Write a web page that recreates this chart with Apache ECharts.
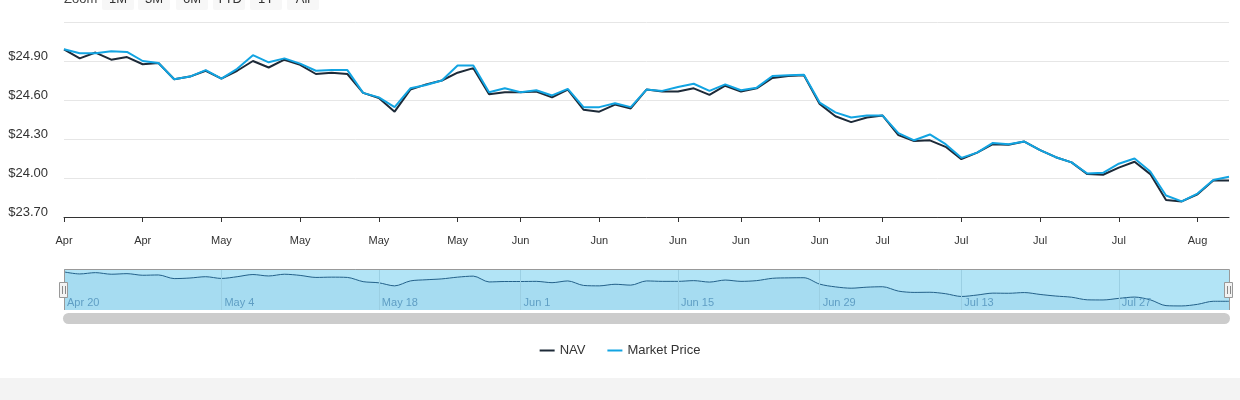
<!DOCTYPE html>
<html>
<head>
<meta charset="utf-8">
<script src="https://cdn.jsdelivr.net/npm/echarts@6/dist/echarts.min.js"></script>
<style>
html,body{margin:0;padding:0;background:#fff;}
#chart{width:1240px;height:400px;}
</style>
</head>
<body>
<div id="chart"></div>
<script>
const dates = [
 '2020-04-20','2020-04-21','2020-04-22','2020-04-23','2020-04-24',
 '2020-04-27','2020-04-28','2020-04-29','2020-04-30','2020-05-01',
 '2020-05-04','2020-05-05','2020-05-06','2020-05-07','2020-05-08',
 '2020-05-11','2020-05-12','2020-05-13','2020-05-14','2020-05-15',
 '2020-05-18','2020-05-19','2020-05-20','2020-05-21','2020-05-22',
 '2020-05-26','2020-05-27','2020-05-28','2020-05-29',
 '2020-06-01','2020-06-02','2020-06-03','2020-06-04','2020-06-05',
 '2020-06-08','2020-06-09','2020-06-10','2020-06-11','2020-06-12',
 '2020-06-15','2020-06-16','2020-06-17','2020-06-18',
 '2020-06-22','2020-06-23','2020-06-24','2020-06-25','2020-06-26',
 '2020-06-29','2020-06-30','2020-07-01','2020-07-02',
 '2020-07-06','2020-07-07','2020-07-08','2020-07-09','2020-07-10',
 '2020-07-13','2020-07-14','2020-07-15','2020-07-16','2020-07-17',
 '2020-07-20','2020-07-21','2020-07-22','2020-07-23','2020-07-24',
 '2020-07-27','2020-07-28','2020-07-29','2020-07-30','2020-07-31',
 '2020-08-03','2020-08-04','2020-08-05'
];
const nav = [
 24.99,24.92,24.965,24.91,24.93,
 24.875,24.885,24.76,24.78,24.825,
 24.765,24.825,24.90,24.85,24.91,
 24.87,24.80,24.81,24.80,24.655,
 24.615,24.51,24.68,24.72,24.75,
 24.81,24.845,24.645,24.66,
 24.66,24.665,24.62,24.68,24.525,
 24.51,24.565,24.535,24.68,24.665,
 24.665,24.69,24.64,24.71,
 24.665,24.69,24.77,24.785,24.79,
 24.57,24.475,24.43,24.465,
 24.48,24.33,24.285,24.29,24.24,
 24.145,24.195,24.26,24.255,24.28,
 24.215,24.16,24.12,24.03,24.025,
 24.08,24.125,24.03,23.83,23.82,
 23.875,23.98,23.98
];
const marketPrice = [
 24.99,24.96,24.96,24.975,24.97,
 24.90,24.885,24.76,24.78,24.83,
 24.765,24.84,24.945,24.89,24.92,
 24.88,24.825,24.83,24.83,24.655,
 24.62,24.545,24.69,24.715,24.75,
 24.865,24.865,24.66,24.69,
 24.66,24.675,24.635,24.685,24.545,
 24.545,24.575,24.545,24.68,24.67,
 24.70,24.725,24.67,24.72,
 24.675,24.695,24.785,24.79,24.795,
 24.58,24.505,24.465,24.48,
 24.48,24.345,24.29,24.335,24.26,
 24.155,24.195,24.27,24.26,24.28,
 24.215,24.16,24.12,24.035,24.04,
 24.11,24.15,24.05,23.865,23.82,
 23.88,23.985,24.01
];
const yTicks = [23.70, 24.00, 24.30, 24.60, 24.90, 25.20];
const zoomButtons = ['1M','3M','6M','YTD','1Y','All'];
const monthNames = ['Jan','Feb','Mar','Apr','May','Jun','Jul','Aug','Sep','Oct','Nov','Dec'];

function parse(d){ const p = d.split('-').map(Number); return new Date(Date.UTC(p[0], p[1]-1, p[2])); }
// first trading day of each week
const weekStart = dates.map((d, i) => {
  if (i === 0) return true;
  const cur = parse(d), prev = parse(dates[i-1]);
  return cur.getUTCDay() < prev.getUTCDay() || (cur - prev) >= 7*86400000;
});
const weekIdx = [];
weekStart.forEach((w, i) => { if (w) weekIdx.push(i); });
const navLabelSet = new Set(weekIdx.filter((_, k) => k % 2 === 0));

const FONT = '"Liberation Sans", Arial, Helvetica, sans-serif';
const chart = echarts.init(document.getElementById('chart'), null, {renderer: 'canvas'});

const L = 64, R = 1229;
const graphics = [];
graphics.push({type:'text', x: 64, y: -1, style:{text:'Zoom', fill:'#444', font:'13px ' + FONT, verticalAlign:'middle'}});
const btnX = [102, 138, 176, 213, 250, 287];
zoomButtons.forEach((b, k) => {
  graphics.push({type:'rect', shape:{x:btnX[k], y:-20, width:32, height:30, r:2}, style:{fill:'#f7f7f7'}});
  graphics.push({type:'text', x: btnX[k] + 16, y: -1, style:{text:b, fill:'#333', font:'13px ' + FONT, align:'center', verticalAlign:'middle'}});
});
// navigator outline
graphics.push({type:'polyline', shape:{points:[[L+0.5,310],[L+0.5,269.5],[R+0.5,269.5],[R+0.5,310]]}, style:{stroke:'#999', lineWidth:1, fill:null}, z: 10});
// handles
[L, R].forEach(x => {
  graphics.push({type:'rect', shape:{x:x-4.5, y:282.5, width:8, height:15}, style:{fill:'#f2f2f2', stroke:'#999', lineWidth:1}, z: 11});
  graphics.push({type:'line', shape:{x1:x-1.5, y1:286, x2:x-1.5, y2:294}, style:{stroke:'#888', lineWidth:1}, z: 12});
  graphics.push({type:'line', shape:{x1:x+1.5, y1:286, x2:x+1.5, y2:294}, style:{stroke:'#888', lineWidth:1}, z: 12});
});
// scrollbar
graphics.push({type:'rect', shape:{x:L-1, y:313, width:R-L+2, height:11, r:5.5}, style:{fill:'#cccccc'}});
// bottom band
graphics.push({type:'rect', shape:{x:0, y:378, width:1240, height:22}, style:{fill:'#f3f3f3'}});

const option = {
  animation: false,
  textStyle: {fontFamily: FONT},
  legend: {
    data: ['NAV', 'Market Price'],
    left: 'center', top: 339,
    icon: 'rect', itemWidth: 15, itemHeight: 2, itemGap: 22,
    textStyle: {color: '#333', fontSize: 13, fontFamily: FONT}
  },
  graphic: graphics,
  grid: [
    {left: L, right: 1240 - R, top: 22, height: 195},
    {left: L, right: 1240 - R, top: 269, height: 41, show: true, backgroundColor: '#b2e4f6', borderWidth: 0}
  ],
  xAxis: [
    {
      type: 'category', gridIndex: 0, data: dates, boundaryGap: false,
      axisLine: {lineStyle: {color: '#333', width: 1}},
      axisTick: {show: true, length: 5, interval: (i) => weekStart[i], lineStyle: {color: '#333'}},
      axisLabel: {interval: (i) => weekStart[i], formatter: (v) => monthNames[parse(v).getUTCMonth()], color: '#333', fontSize: 11, margin: 18, fontFamily: FONT},
      splitLine: {show: false}
    },
    {
      type: 'category', gridIndex: 1, data: dates, boundaryGap: false, z: 5,
      axisLine: {show: false}, axisTick: {show: false},
      axisLabel: {
        inside: true, interval: (i) => navLabelSet.has(i),
        formatter: (v) => { const d = parse(v); return monthNames[d.getUTCMonth()] + ' ' + d.getUTCDate(); },
        color: '#5f9ec4', fontSize: 11, align: 'left', padding: [0, 0, 0, 3], margin: 2, fontFamily: FONT
      },
      splitLine: {show: true, interval: (i) => navLabelSet.has(i), lineStyle: {color: '#9bcfe3', width: 1}}
    }
  ],
  yAxis: [
    {
      type: 'value', gridIndex: 0, min: yTicks[0], max: yTicks[yTicks.length - 1], interval: 0.3,
      axisLine: {show: false}, axisTick: {show: false},
      axisLabel: {showMaxLabel: false, formatter: (v) => '$' + v.toFixed(2), color: '#333', fontSize: 13, margin: 16, verticalAlign: 'bottom', lineHeight: 10, fontFamily: FONT},
      splitLine: {lineStyle: {color: '#e6e6e6', width: 1}}
    },
    {type: 'value', gridIndex: 1, min: 23.68, max: 25.09, show: false, splitLine: {show: false}}
  ],
  series: [
    {name: 'NAV', type: 'line', xAxisIndex: 0, yAxisIndex: 0, data: nav, showSymbol: false, symbol: 'none',
     lineStyle: {color: '#1d2a38', width: 2}, itemStyle: {color: '#1d2a38'}, z: 2},
    {name: 'Market Price', type: 'line', xAxisIndex: 0, yAxisIndex: 0, data: marketPrice, showSymbol: false, symbol: 'none',
     lineStyle: {color: '#12a4e2', width: 2}, itemStyle: {color: '#12a4e2'}, z: 3},
    {name: 'navigator', type: 'line', xAxisIndex: 1, yAxisIndex: 1, data: nav, showSymbol: false, symbol: 'none', smooth: 0.3,
     lineStyle: {color: '#23618a', width: 1}, areaStyle: {color: '#a6dcf1', opacity: 1}, z: 1, silent: true}
  ]
};
chart.setOption(option);
</script>
</body>
</html>
